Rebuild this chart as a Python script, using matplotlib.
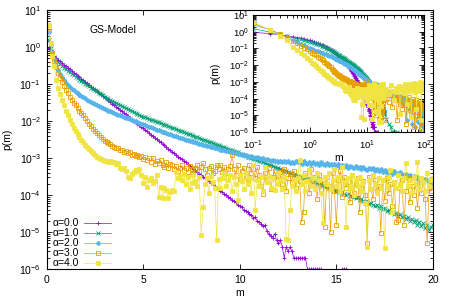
import numpy as np
import matplotlib
matplotlib.use("Agg")
import matplotlib.pyplot as plt
from matplotlib.ticker import LogLocator, LogFormatterMathtext, NullFormatter, MultipleLocator

plt.rcParams['font.family'] = ['Liberation Sans', 'DejaVu Sans']

# m bins shown in the main panel (0.1 .. 20.0) and the coarse tail seen in the inset
M_MAIN = np.round(np.arange(1, 201) * 0.1, 1)
M_TAIL = np.arange(22, 101, 2)

nan = np.nan

# log10 p(m), one row per unit of m
LOGP_A0 = [
    -0.04, -0.11, -0.18, -0.25, -0.31, -0.35, -0.39, -0.44, -0.48, -0.52,
    -0.56, -0.60, -0.65, -0.69, -0.73, -0.77, -0.81, -0.86, -0.90, -0.94,
    -0.98, -1.02, -1.07, -1.11, -1.15, -1.19, -1.23, -1.28, -1.32, -1.36,
    -1.40, -1.44, -1.49, -1.53, -1.57, -1.61, -1.65, -1.70, -1.74, -1.78,
    -1.82, -1.86, -1.91, -1.95, -1.99, -2.03, -2.07, -2.12, -2.16, -2.20,
    -2.24, -2.28, -2.33, -2.37, -2.41, -2.45, -2.49, -2.54, -2.58, -2.62,
    -2.66, -2.70, -2.75, -2.79, -2.83, -2.87, -2.91, -2.96, -3.00, -3.04,
    -3.08, -3.12, -3.17, -3.21, -3.25, -3.29, -3.33, -3.38, -3.42, -3.46,
    -3.50, -3.54, -3.59, -3.63, -3.67, -3.71, -3.76, -3.80, -3.83, -3.88,
    -3.93, -3.96, -4.00, -4.06, -4.08, -4.14, -4.17, -4.20, -4.27, -4.30,
    -4.33, -4.40, -4.42, -4.46, -4.52, -4.53, -4.62, -4.60, -4.70, -4.72,
    -4.77, -4.85, -4.82, -4.96, -5.05, -5.10, -5.15, -5.05, -5.22, -5.30,
    -5.22, -5.40, -5.70, -5.40, -5.52, -5.40, -5.52, -5.70, -5.70, -5.70,
    -5.70, -5.70, -5.70, -5.70, -6.00, -6.00, -6.00, -6.00, -6.00, -6.00,
    -6.00, -6.00, nan, nan, nan, nan, nan, nan, nan, nan,
    nan, nan, -6.00, -6.00, -6.00, nan, nan, nan, nan, nan,
    nan, nan, nan, nan, nan, nan, nan, nan, nan, nan,
    nan, nan, nan, nan, nan, nan, nan, nan, nan, nan,
    nan, nan, nan, nan, nan, nan, nan, nan, nan, nan,
    nan, nan, nan, nan, nan, nan, nan, nan, nan, nan,
]
LOGP_A1 = [
    0.18, -0.02, -0.17, -0.28, -0.35, -0.41, -0.46, -0.51, -0.56, -0.60,
    -0.64, -0.68, -0.72, -0.76, -0.80, -0.84, -0.88, -0.92, -0.95, -0.99,
    -1.03, -1.06, -1.10, -1.13, -1.17, -1.20, -1.24, -1.27, -1.30, -1.34,
    -1.37, -1.40, -1.43, -1.46, -1.49, -1.52, -1.55, -1.57, -1.60, -1.63,
    -1.66, -1.68, -1.71, -1.74, -1.76, -1.79, -1.81, -1.84, -1.86, -1.88,
    -1.90, -1.92, -1.94, -1.96, -1.98, -2.00, -2.02, -2.04, -2.06, -2.08,
    -2.10, -2.12, -2.14, -2.16, -2.18, -2.20, -2.22, -2.24, -2.26, -2.28,
    -2.30, -2.32, -2.34, -2.36, -2.38, -2.40, -2.42, -2.44, -2.46, -2.48,
    -2.50, -2.52, -2.53, -2.56, -2.58, -2.60, -2.61, -2.64, -2.66, -2.68,
    -2.70, -2.71, -2.74, -2.76, -2.78, -2.79, -2.82, -2.84, -2.85, -2.88,
    -2.90, -2.91, -2.94, -2.96, -2.97, -3.00, -3.02, -3.03, -3.06, -3.08,
    -3.09, -3.12, -3.14, -3.15, -3.18, -3.20, -3.21, -3.24, -3.26, -3.28,
    -3.29, -3.32, -3.34, -3.35, -3.39, -3.40, -3.41, -3.45, -3.46, -3.48,
    -3.50, -3.51, -3.55, -3.55, -3.58, -3.61, -3.60, -3.65, -3.66, -3.67,
    -3.71, -3.70, -3.74, -3.77, -3.76, -3.80, -3.83, -3.82, -3.86, -3.88,
    -3.88, -3.93, -3.91, -3.96, -3.99, -3.97, -4.03, -4.02, -4.06, -4.09,
    -4.06, -4.13, -4.10, -4.17, -4.20, -4.16, -4.24, -4.22, -4.27, -4.31,
    -4.26, -4.34, -4.31, -4.38, -4.35, -4.44, -4.40, -4.47, -4.45, -4.52,
    -4.49, -4.58, -4.52, -4.60, -4.57, -4.65, -4.60, -4.70, -4.64, -4.73,
    -4.68, -4.80, -4.72, -4.85, -4.76, -4.90, -4.82, -4.95, -4.86, -4.80,
]
LOGP_A2 = [
    0.41, 0.12, -0.12, -0.32, -0.48, -0.61, -0.72, -0.82, -0.90, -0.97,
    -1.03, -1.08, -1.13, -1.17, -1.21, -1.25, -1.29, -1.32, -1.36, -1.39,
    -1.42, -1.45, -1.48, -1.51, -1.54, -1.57, -1.59, -1.62, -1.64, -1.67,
    -1.69, -1.72, -1.74, -1.76, -1.78, -1.80, -1.83, -1.85, -1.87, -1.89,
    -1.91, -1.93, -1.95, -1.97, -1.99, -2.01, -2.03, -2.05, -2.07, -2.09,
    -2.11, -2.13, -2.15, -2.17, -2.19, -2.21, -2.23, -2.25, -2.27, -2.29,
    -2.30, -2.32, -2.34, -2.36, -2.38, -2.40, -2.41, -2.43, -2.45, -2.47,
    -2.48, -2.50, -2.51, -2.53, -2.55, -2.56, -2.58, -2.59, -2.61, -2.62,
    -2.64, -2.65, -2.67, -2.68, -2.70, -2.71, -2.72, -2.74, -2.75, -2.77,
    -2.78, -2.79, -2.81, -2.82, -2.83, -2.85, -2.86, -2.87, -2.88, -2.90,
    -2.91, -2.93, -2.92, -2.95, -2.96, -2.95, -2.98, -3.00, -2.98, -3.01,
    -3.03, -3.01, -3.05, -3.04, -3.06, -3.08, -3.05, -3.09, -3.07, -3.10,
    -3.08, -3.12, -3.07, -3.11, -3.09, -3.13, -3.10, -3.14, -3.08, -3.12,
    -3.10, -3.15, -3.09, -3.13, -3.16, -3.11, -3.15, -3.12, -3.17, -3.13,
    -3.18, -3.12, -3.16, -3.20, -3.14, -3.19, -3.15, -3.22, -3.17, -3.21,
    -3.16, -3.23, -3.19, -3.24, -3.18, -3.26, -3.21, -3.25, -3.28, -3.22,
    -3.27, -3.24, -3.30, -3.25, -3.29, -3.33, -3.26, -3.31, -3.28, -3.34,
    -3.29, -3.35, -3.31, -3.37, -3.33, -3.40, -3.34, -3.38, -3.43, -3.36,
    -3.41, -3.46, -3.39, -3.44, -3.48, -3.42, -3.50, -3.46, -3.53, -3.48,
    -3.55, -3.50, -3.58, -3.53, -3.62, -3.56, -3.60, -3.66, -3.61, -3.68,
]
LOGP_A3 = [
    0.50, 0.12, -0.16, -0.38, -0.55, -0.70, -0.83, -0.95, -1.05, -1.15,
    -1.25, -1.34, -1.42, -1.50, -1.58, -1.65, -1.72, -1.79, -1.85, -1.92,
    -2.00, -2.07, -2.14, -2.21, -2.27, -2.33, -2.39, -2.44, -2.49, -2.53,
    -2.56, -2.60, -2.63, -2.67, -2.69, -2.73, -2.74, -2.78, -2.79, -2.83,
    -2.82, -2.87, -2.85, -2.91, -2.88, -2.94, -2.92, -2.98, -2.95, -3.03,
    -2.97, -3.05, -3.01, -3.10, -3.00, -3.16, -3.08, -3.13, -3.05, -3.18,
    -3.25, -3.12, -3.28, -3.15, -3.18, -3.30, -3.22, -3.35, -3.28, -3.20,
    -3.32, -3.26, -3.38, -3.22, -3.30, -3.42, -3.28, -3.20, -3.36, -3.24,
    -3.14, -3.30, -3.45, -3.26, -3.22, -3.41, -3.35, -3.18, -3.30, -3.19,
    -3.38, -3.25, -3.52, -3.30, -3.22, -2.92, -3.30, -3.45, -3.20, -3.58,
    -3.35, -3.26, -3.50, -3.68, -3.20, -3.40, -3.30, -3.55, -3.25, -3.46,
    -3.75, -3.96, -3.40, -3.60, -3.28, -3.85, -3.52, -3.35, -3.60, -3.45,
    -3.38, -3.70, -3.30, -3.90, -3.55, -3.42, -3.65, -3.35, -3.80, -3.50,
    -3.62, -4.72, -4.45, -3.40, -3.58, -3.95, -3.30, -3.70, -3.50, -4.10,
    -3.45, -3.85, -3.60, -4.86, -3.52, -3.75, -5.00, -3.40, -3.90, -4.81,
    -3.60, -3.35, -4.05, -3.50, -3.80, -3.65, -4.20, -3.45, -3.95, -3.70,
    -3.55, -4.45, -3.80, -3.62, -4.00, -5.30, -3.50, -3.85, -4.10, -3.60,
    -3.90, -3.75, -5.02, -3.60, -4.15, -3.55, -3.95, -3.70, -4.30, -3.65,
    -4.72, -4.68, -3.80, -3.60, -4.80, -3.90, -3.55, -4.20, -3.75, -4.00,
    -3.70, -4.35, -3.65, -3.95, -3.60, -4.10, -5.30, -3.80, -3.90, -3.77,
]
LOGP_A4 = [
    0.60, 0.10, -0.25, -0.52, -0.90, -1.10, -1.27, -1.42, -1.58, -1.72,
    -1.85, -1.96, -2.07, -2.18, -2.28, -2.36, -2.43, -2.50, -2.57, -2.64,
    -2.70, -2.76, -2.82, -2.87, -2.92, -2.96, -3.00, -3.04, -3.06, -3.08,
    -3.07, -3.10, -3.09, -3.12, -3.11, -3.16, -3.14, -3.26, -3.30, -3.28,
    -3.34, -3.50, -3.55, -3.42, -3.37, -3.32, -3.36, -3.30, -3.45, -3.68,
    -3.50, -3.77, -3.60, -3.55, -3.68, -3.62, -3.46, -4.05, -3.77, -4.09,
    -3.80, -3.86, -4.09, -3.92, -3.86, -3.90, -3.37, -3.55, -3.48, -3.60,
    -3.42, -3.70, -3.52, -3.85, -3.68, -3.45, -3.62, -3.75, -3.50, -5.08,
    -4.32, -3.70, -3.55, -3.95, -3.48, -3.66, -3.80, -5.22, -3.58, -3.82,
    -3.55, -3.40, -3.75, -3.60, -3.46, -3.90, -3.52, -3.70, -4.14, -3.45,
    -3.62, -3.85, -3.40, -3.70, -3.55, -3.95, -3.19, -4.40, -3.60, -3.75,
    -3.50, -3.90, -3.24, -3.65, -3.48, -3.80, -3.55, -3.86, -3.70, -3.40,
    -3.60, -3.85, -3.50, -5.20, -5.22, -4.40, -3.75, -3.60, -3.90, -3.55,
    -3.05, -3.70, -3.45, -3.90, -3.62, -3.32, -3.75, -3.55, -3.85, -3.41,
    -3.60, -3.95, -4.76, -3.50, -3.70, -3.40, -3.85, -3.60, -3.30, -3.75,
    -3.50, -3.90, -3.24, -3.65, -4.86, -3.55, -3.80, -3.45, -4.00, -3.60,
    -3.75, -3.50, -3.90, -3.65, -4.22, -5.40, -3.60, -3.85, -3.45, -3.70,
    -3.95, -3.55, -3.80, -3.60, -5.42, -3.75, -3.50, -3.32, -4.45, -3.65,
    -3.80, -3.45, -3.70, -3.90, -3.55, -3.14, -3.75, -3.60, -3.95, -3.50,
    -3.70, -3.10, -3.85, -3.55, -3.65, -3.90, -3.40, -3.75, -3.60, -3.55,
]

# tail m = 22 .. 100 (only visible in the log-log inset)
TAIL_A0 = [nan] * 40
TAIL_A1 = [-5.22, -5.52, -5.70, -6.00, -6.00, nan, -6.00] + [nan] * 33
TAIL_A2 = [
    -3.70, -3.62, -3.85, -3.75, -3.95, -3.80, -4.10, -3.90, -4.25, -3.85,
    -4.05, -4.40, -3.95, -4.20, -5.30, -4.10, -4.35, -4.00, -4.60, -4.25,
    -5.52, -4.15, -4.45, -4.30, -5.70, -4.50, -4.20, -4.70, -5.40, -4.40,
    -4.60, -6.00, -4.35, -4.80, -5.52, -4.55, -4.90, -4.45, -5.70, -4.60,
]
TAIL_A3 = [
    -3.80, -4.20, -3.70, -4.50, -3.90, -4.05, -5.30, -3.85, -4.30, -4.00,
    -4.60, -3.95, -4.40, -5.52, -4.10, -4.25, -3.90, -4.70, -4.15, -5.00,
    -4.30, -4.05, -4.55, -5.70, -4.20, -4.40, -4.10, -4.80, -4.35, -5.22,
    -4.25, -4.60, -4.30, -6.00, -4.45, -4.20, -4.65, -4.40, -5.40, -4.50,
]
TAIL_A4 = [
    -3.40, -3.70, -3.20, -3.55, -4.10, -3.35, -3.60, -3.25, -4.90, -3.50,
    -3.30, -3.65, -3.15, -3.45, -4.30, -3.25, -3.55, -3.10, -3.40, -5.10,
    -3.20, -3.50, -3.05, -3.35, -3.60, -3.15, -4.60, -3.30, -3.10, -3.45,
    -3.20, -3.55, -3.00, -3.35, -5.30, -3.15, -3.40, -3.05, -3.30, -3.20,
]

LABELS = ["α=0.0", "α=1.0", "α=2.0", "α=3.0", "α=4.0"]
MAIN = [LOGP_A0, LOGP_A1, LOGP_A2, LOGP_A3, LOGP_A4]
TAIL = [TAIL_A0, TAIL_A1, TAIL_A2, TAIL_A3, TAIL_A4]

# gnuplot default palette + point types 1..5
STYLE = [
    dict(color="#9400d3", marker="+", ms=3.5, mfc="#9400d3"),
    dict(color="#009e73", marker="x", ms=3.0, mfc="#009e73"),
    dict(color="#56b4e9", marker=(8, 2, 0), ms=3.5, mfc="#56b4e9"),
    dict(color="#e69f00", marker="s", ms=3.2, mfc="none"),
    dict(color="#f0e442", marker="s", ms=3.2, mfc="#f0e442"),
]

m_all = np.concatenate([M_MAIN, M_TAIL])


def style_log_y(ax, size):
    ax.set_yscale("log")
    ax.yaxis.set_major_locator(LogLocator(base=10, numticks=20))
    ax.yaxis.set_minor_locator(LogLocator(base=10, subs=np.arange(2, 10), numticks=20))
    ax.yaxis.set_major_formatter(LogFormatterMathtext())
    ax.yaxis.set_minor_formatter(NullFormatter())
    ax.tick_params(which="both", direction="in", top=True, right=True,
                   labelsize=size, width=0.6)
    ax.tick_params(which="major", length=3.5)
    ax.tick_params(which="minor", length=2)
    for sp in ax.spines.values():
        sp.set_linewidth(0.8)


fig = plt.figure(figsize=(4.5, 3.0), dpi=100)
ax = fig.add_axes([0.1037, 0.1033, 0.8584, 0.8633])
axi = fig.add_axes([0.562, 0.56, 0.38, 0.39])
axi.set_facecolor("white")

handles = []
for lab, lp, tp, st in zip(LABELS, MAIN, TAIL, STYLE):
    p = 10.0 ** np.concatenate([np.asarray(lp, float), np.asarray(tp, float)])
    for a, ms in ((ax, st["ms"]), (axi, st["ms"] * 0.9)):
        ln, = a.plot(m_all, p, color=st["color"], lw=0.5, marker=st["marker"],
                     ms=ms, mec=st["color"], mfc=st["mfc"], mew=0.6, label=lab)
        if a is ax:
            handles.append(ln)

# main panel
ax.set_xlim(0, 20)
ax.set_ylim(1e-6, 10)
style_log_y(ax, 7.5)
ax.xaxis.set_major_locator(MultipleLocator(5))
ax.tick_params(axis="x", pad=4)
ax.tick_params(axis="y", pad=4)
ax.set_xlabel("m", fontsize=7.5)
ax.set_ylabel("p(m)", fontsize=7.5)
ax.xaxis.set_label_coords(0.5, -0.075)
ax.yaxis.set_label_coords(-0.088, 0.5)
ax.text(0.112, 0.923, "GS-Model", transform=ax.transAxes, fontsize=7.5,
        ha="left", va="center")

ax.legend(handles=handles, loc="lower left", bbox_to_anchor=(0.01, -0.005),
          frameon=False, fontsize=7.5, markerfirst=False, labelspacing=0.0,
          handlelength=2.6, handletextpad=0.5, borderpad=0.2, borderaxespad=0.0)

# inset: same data on log-log axes
axi.set_xscale("log")
axi.set_xlim(0.1, 100)
axi.set_ylim(1e-6, 10)
style_log_y(axi, 6.8)
axi.xaxis.set_major_locator(LogLocator(base=10, numticks=10))
axi.xaxis.set_minor_locator(LogLocator(base=10, subs=np.arange(2, 10), numticks=10))
axi.xaxis.set_major_formatter(LogFormatterMathtext())
axi.xaxis.set_minor_formatter(NullFormatter())
axi.tick_params(axis="y", pad=3)
axi.tick_params(axis="x", pad=5)
axi.set_xlabel("m", fontsize=7.5)
axi.set_ylabel("p(m)", fontsize=7.5)
axi.xaxis.set_label_coords(0.5, -0.18)
axi.yaxis.set_label_coords(-0.19, 0.5)

fig.savefig("out.png", dpi=100)
